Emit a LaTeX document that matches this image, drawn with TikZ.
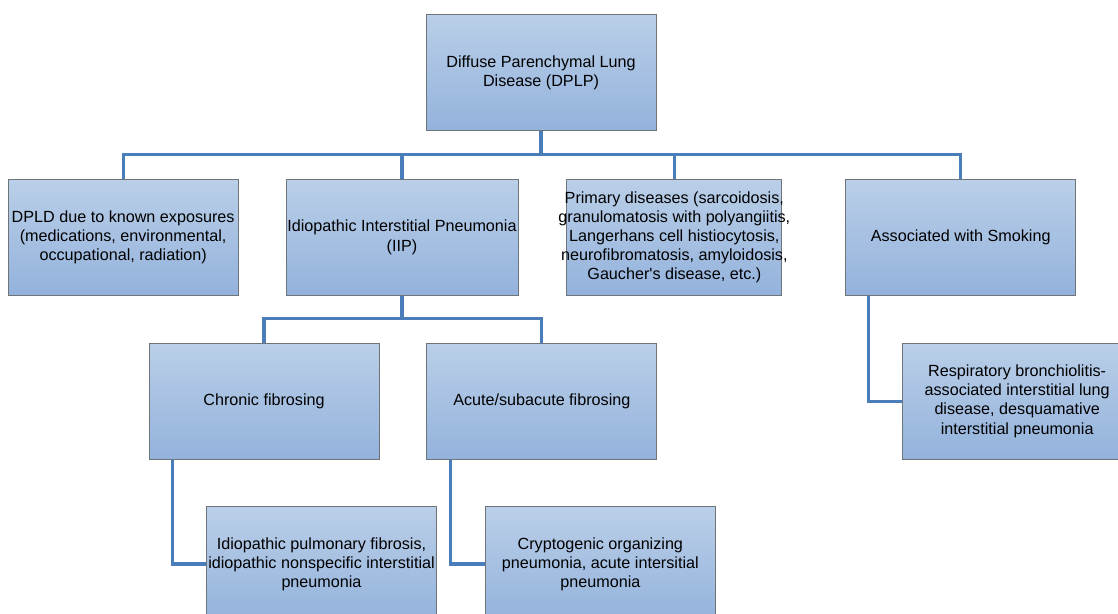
\documentclass[tikz,border=0pt]{standalone}
\usepackage{fontspec}
\setmainfont{Liberation Sans}
\usetikzlibrary{positioning, calc}

\definecolor{linkblue}{HTML}{4A7EBB}
\definecolor{boxtop}{HTML}{BACFE8}
\definecolor{boxbottom}{HTML}{93B2DC}
\definecolor{boxline}{HTML}{6F7478}

\begin{document}
\begin{tikzpicture}[
    box/.style={rectangle, draw=boxline, line width=0.6pt, top color=boxtop, bottom color=boxbottom, minimum width=5.75cm, minimum height=2.9cm, inner sep=1pt, text centered, align=center, font=\fontsize{11.5}{13.6}\selectfont},
    link/.style={draw=linkblue, line width=2.2pt},
    node distance=1.2cm
]
\clip (0,0) rectangle (27.95,-15.325);

% Root
\node[box] (dplp) at (13.525,-1.8125) {Diffuse Parenchymal Lung\\Disease (DPLP)};

% First level
\node[box, below=1.2cm of dplp, xshift=-3.475cm] (iip) {Idiopathic Interstitial Pneumonia\\(IIP)};
\node[box, left=1.175cm of iip] (exposures) {DPLD due to known exposures\\(medications, environmental,\\occupational, radiation)};
\node[box, right=of iip, minimum width=5.375cm, inner xsep=-0.3cm] (primary) {Primary diseases (sarcoidosis,\\granulomatosis with polyangiitis,\\Langerhans cell histiocytosis,\\neurofibromatosis, amyloidosis,\\Gaucher\textquotesingle s disease, etc.)};
\node[box, right=1.575cm of primary] (smoking) {Associated with Smoking};

% Second level
\node[box, below=1.175cm of iip, xshift=-3.45cm] (chronic) {Chronic fibrosing};
\node[box, right=1.175cm of chronic] (acute) {Acute/subacute fibrosing};
\node[box, below=1.175cm of smoking, xshift=1.4125cm] (rbild) {Respiratory bronchiolitis-\\associated interstitial lung\\disease, desquamative\\interstitial pneumonia};

% Third level
\node[box, below=1.15cm of chronic, xshift=1.4375cm] (ipf) {Idiopathic pulmonary fibrosis,\\idiopathic nonspecific interstitial\\pneumonia};
\node[box, right=of ipf] (cop) {Cryptogenic organizing\\pneumonia, acute intersitial\\pneumonia};

% Connectors
\draw[link] (dplp.south) -- ++(0,-0.6) -| (exposures.north);
\draw[link] (dplp.south) -- ++(0,-0.6) -| (iip.north);
\draw[link] (dplp.south) -- ++(0,-0.6) -| (primary.north);
\draw[link] (dplp.south) -- ++(0,-0.6) -| (smoking.north);
\draw[link] (iip.south) -- ++(0,-0.575) -| (chronic.north);
\draw[link] (iip.south) -- ++(0,-0.575) -| (acute.north);
\draw[link] ($(chronic.south west)+(0.6,0)$) |- (ipf.west);
\draw[link] ($(acute.south west)+(0.6,0)$) |- (cop.west);
\draw[link] ($(smoking.south west)+(0.575,0)$) |- (rbild.west);
\end{tikzpicture}
\end{document}
